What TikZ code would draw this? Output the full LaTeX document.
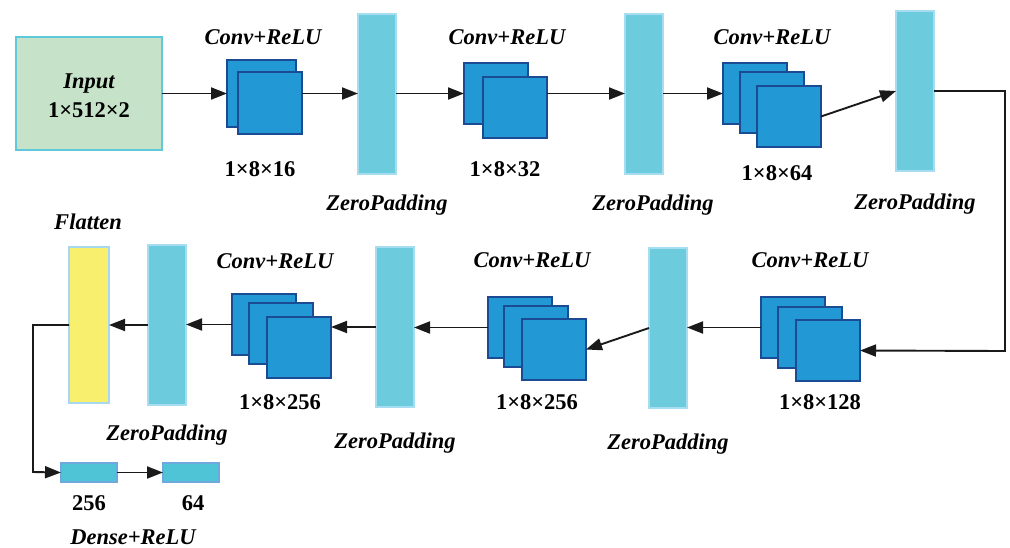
\documentclass[tikz,border=0pt]{standalone}
\usepackage{fontspec}
\setmainfont{Liberation Serif}
\usetikzlibrary{arrows.meta}

\definecolor{inputfill}{HTML}{C6E3C9}
\definecolor{inputline}{HTML}{5FC8DA}
\definecolor{convfill}{HTML}{2298D4}
\definecolor{convline}{HTML}{1B4B93}
\definecolor{padfill}{HTML}{6CCBDD}
\definecolor{padline}{HTML}{A6DDF0}
\definecolor{flatfill}{HTML}{F8EF6E}
\definecolor{flatline}{HTML}{A6D8F0}
\definecolor{densefill}{HTML}{4FC4D7}
\definecolor{denseline}{HTML}{6FA8DC}
\definecolor{wire}{HTML}{1A1A1A}

\tikzset{
  box/.style={anchor=north west, inner sep=0pt, outer sep=0pt},
  fmap/.style={box, draw=convline, fill=convfill, line width=1.6pt,
               minimum width=64pt, minimum height=61pt},
  padbar/.style={box, draw=padline, fill=padfill, line width=1.5pt,
                 minimum width=38pt, minimum height=160pt},
  flatbar/.style={box, draw=flatline, fill=flatfill, line width=1.5pt,
                  minimum width=40pt, minimum height=156pt},
  densebox/.style={box, draw=denseline, fill=densefill, line width=1.5pt,
                   minimum width=56pt, minimum height=19pt},
  lbl/.style={anchor=base, inner sep=0pt,
              font=\fontsize{22.5}{27}\selectfont\bfseries\itshape},
  dim/.style={anchor=base, inner sep=0pt,
              font=\fontsize{22.5}{27}\selectfont\bfseries},
  arr/.style={draw=wire, line width=1.9pt,
              -{Triangle[length=16pt,width=12pt]}},
}

\begin{document}
\begin{tikzpicture}[x=1pt, y=-1pt]
\useasboundingbox (0,0) rectangle (1010,547);

% input block
\node[box, draw=inputline, fill=inputfill, line width=1.5pt,
      minimum width=146pt, minimum height=113pt] (in) at (16,37) {};
\node[lbl] (inA) at (89,88) {Input};
\node[dim] (inB) at (89,117) {1×512×2};

% first convolution
\node[fmap, minimum width=69pt, minimum height=67pt] (c1a) at (227,60) {};
\node[fmap, minimum height=62pt] (c1b) at (238,72) {};
\node[lbl] (t1) at (263,44) {Conv+ReLU};
\node[dim] (s1) at (260,176) {1×8×16};
\node[padbar] (b1) at (358,14) {};
\node[lbl] (z1) at (387,210) {ZeroPadding};

% second convolution
\node[fmap] (c2a) at (464,63) {};
\node[fmap] (c2b) at (483,77) {};
\node[lbl] (t2) at (507,44) {Conv+ReLU};
\node[dim] (s2) at (505,176) {1×8×32};
\node[padbar] (b2) at (625,14) {};
\node[lbl] (z2) at (653,210) {ZeroPadding};

% third convolution
\node[fmap] (c3a) at (723,63) {};
\node[fmap] (c3b) at (740,72) {};
\node[fmap] (c3c) at (757,86) {};
\node[lbl] (t3) at (772,44) {Conv+ReLU};
\node[dim] (s3) at (777,180) {1×8×64};
\node[padbar] (b3) at (896,11) {};
\node[lbl] (z3) at (915,209) {ZeroPadding};

% fourth convolution
\node[fmap] (c4a) at (761,297) {};
\node[fmap] (c4b) at (778,307) {};
\node[fmap] (c4c) at (796,320) {};
\node[lbl] (t4) at (810,267) {Conv+ReLU};
\node[dim] (s4) at (820,409) {1×8×128};
\node[padbar] (b4) at (649,248) {};
\node[lbl] (z4) at (668,449) {ZeroPadding};

% fifth convolution
\node[fmap] (c5a) at (488,297) {};
\node[fmap] (c5b) at (504,306) {};
\node[fmap] (c5c) at (522,319) {};
\node[lbl] (t5) at (532,267) {Conv+ReLU};
\node[dim] (s5) at (537,409) {1×8×256};
\node[padbar] (b5) at (376,247) {};
\node[lbl] (z5) at (395,448) {ZeroPadding};

% sixth convolution
\node[fmap] (c6a) at (232,294) {};
\node[fmap] (c6b) at (249,303) {};
\node[fmap] (c6c) at (267,317) {};
\node[lbl] (t6) at (275,268) {Conv+ReLU};
\node[dim] (s6) at (280,409) {1×8×256};
\node[padbar] (b6) at (148,245) {};
\node[lbl] (z6) at (167,440) {ZeroPadding};

% flatten and dense layers
\node[flatbar] (fl) at (69,247) {};
\node[lbl] (tf) at (88,229) {Flatten};
\node[densebox] (d1) at (61,463) {};
\node[densebox] (d2) at (163,463) {};
\node[dim] (n1) at (89,510) {256};
\node[dim] (n2) at (193,510) {64};
\node[lbl] (td) at (133,544) {Dense+ReLU};

% turning points of the long connectors
\coordinate (rt) at (1005,351);
\coordinate (lt) at (33,472);

% connectors, top row
\draw[arr] (in.east) -- (c1a.west);
\draw[arr] (c1b.east |- in.east) -- (b1.west |- in.east);
\draw[arr] (b1.east |- in.east) -- (c2a.west);
\draw[arr] (c2b.east |- c2a.west) -- (b2.west |- c2a.west);
\draw[arr] (b2.east |- c3a.west) -- (c3a.west);
\draw[arr] (c3c.east) -- (b3.west);
\draw[arr] (b3.east) -| (rt) -- (c4c.east);

% connectors, bottom row
\draw[arr] (c4a.west) -- (b4.east |- c4a.west);
\draw[arr] (b4.west) -- (c5c.east);
\draw[arr] (c5a.west) -- (b5.east |- c5a.west);
\draw[arr] (b5.west) -- (c6c.east |- b5.west);
\draw[arr] (c6a.west) -- (b6.east |- c6a.west);
\draw[arr] (b6.west |- fl.east) -- (fl.east);
\draw[arr] (fl.west) -| (lt) -- (d1.west);
\draw[arr] (d1.east) -- (d2.west);
\end{tikzpicture}
\end{document}
